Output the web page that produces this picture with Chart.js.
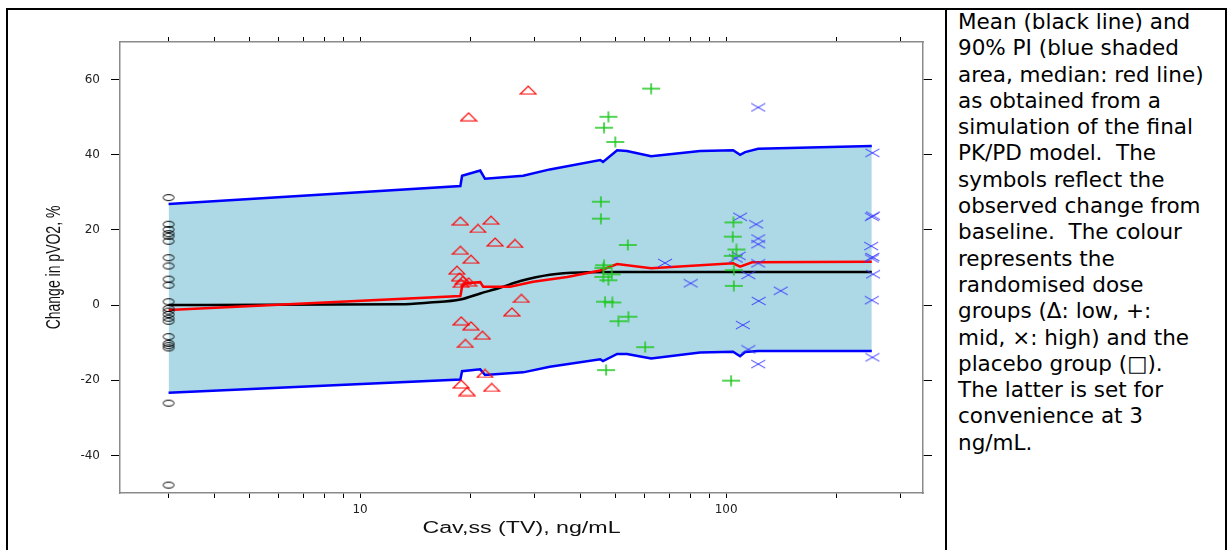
<!DOCTYPE html>
<html>
<head>
<meta charset="utf-8">
<script src="https://cdn.jsdelivr.net/npm/chart.js@4.4.1/dist/chart.umd.min.js"></script>
<style>
  html, body { margin: 0; padding: 0; background: #fff; width: 1227px; height: 550px; overflow: hidden; }
  #frame { position: absolute; left: 6px; top: 8px; width: 1221px; height: 560px; box-sizing: border-box; border: 2px solid #000; }
  #sep { position: absolute; left: 945px; top: 8px; width: 2px; height: 560px; background: #000; }
  #c { position: absolute; left: 0; top: 0; }
  #note { position: absolute; left: 958px; top: 9px; font-family: "DejaVu Sans", Verdana, sans-serif; font-size: 21.5px; line-height: 26.3px; color: #000; white-space: nowrap; }
</style>
</head>
<body>
<div id="frame"></div>
<div id="sep"></div>
<canvas id="c" width="945" height="550"></canvas>
<div id="note">Mean (black line) and<br>90% PI (blue shaded<br>area, median: red line)<br>as obtained from a<br>simulation of the final<br>PK/PD model.&nbsp; The<br>symbols reflect the<br>observed change from<br>baseline.&nbsp; The colour<br>represents the<br>randomised dose<br>groups (Δ: low, +:<br>mid, ×: high) and the<br>placebo group (□).<br>The latter is set for<br>convenience at 3<br>ng/mL.</div>
<script>
// ---- data ----
const BAND_X = [3, 18.8, 19.0, 21.3, 21.95, 27.9, 33.0, 45.3, 46.1, 50.4, 53.6, 62.4, 84.9, 104.5, 109.2, 112.7, 122.3, 250];
const UPPER_90 = [26.9, 31.7, 34.4, 35.8, 33.6, 34.4, 36.1, 38.6, 38.1, 41.2, 41.0, 39.6, 41.0, 41.2, 40.0, 40.7, 41.6, 42.3];
const LOWER_90 = [-23.3, -19.8, -17.6, -17.1, -18.6, -17.9, -16.4, -14.4, -14.9, -13.0, -13.0, -14.2, -12.6, -12.4, -13.6, -12.5, -12.2, -12.2];

const MEAN_X = [3, 12.9, 15.5, 18.8, 21.3, 24.1, 27.4, 33.0, 39.9, 51.3, 250];
const MEAN_Y = [0, 0.2, 0.7, 1.5, 3.1, 4.6, 6.4, 8.1, 8.7, 8.8, 8.8];

const MEDIAN_X = [3, 18.8, 19.0, 19.4, 21.3, 21.7, 25.7, 29.7, 36.8, 45.3, 50.4, 62.4, 104.5, 109.2, 117.8, 250];
const MEDIAN_Y = [-1.3, 2.4, 4.9, 5.8, 6.1, 4.9, 4.9, 6.2, 7.5, 9.2, 10.9, 9.8, 11.1, 10.2, 11.4, 11.5];

const PLACEBO_CONC = 3;
const PLACEBO_Y = [28.6, 21.5, 20.1, 19.0, 18.3, 17.0, 12.6, 10.4, 6.9, 5.3, 0.9, -0.9, -1.6, -2.5, -3.5, -4.3, -8.4, -10.2, -10.8, -11.4, -26.1, -47.9];

const LOW_X = [28.8, 19.8, 18.8, 22.8, 21.0, 23.4, 26.5, 18.8, 20.1, 18.4, 18.7, 19.1, 19.8, 18.9, 27.6, 26.0, 18.9, 20.1, 21.6, 19.4, 21.95, 18.9, 19.6, 22.9];
const LOW_Y = [57.2, 50.1, 22.4, 22.6, 20.4, 16.8, 16.4, 14.6, 12.2, 9.3, 7.5, 6.6, 6.2, 5.8, 1.8, -1.8, -4.2, -5.5, -8.0, -10.2, -18.2, -21.0, -23.0, -21.9];

const MID_X = [62.4, 47.7, 46.4, 49.8, 45.5, 45.5, 53.9, 46.4, 46.2, 48.7, 46.2, 47.7, 46.7, 48.9, 50.8, 54.1, 60.1, 47.0, 104.7, 104.3, 106.7, 104.3, 105.0, 105.0, 103.2];
const MID_Y = [57.6, 50.1, 47.2, 43.4, 27.5, 23.0, 16.0, 10.6, 9.9, 8.2, 7.5, 6.6, 0.9, 0.7, -4.3, -3.1, -11.2, -17.3, 22.0, 18.2, 14.8, 13.1, 9.3, 5.1, -20.1];

const HIGH_X = [122.4, 109.2, 120.8, 122.4, 122.4, 108.2, 106.3, 122.4, 115.0, 68.1, 80.0, 141.0, 122.7, 111.1, 115.0, 122.4, 251, 250, 252, 249, 251, 250, 252, 250, 251];
const HIGH_Y = [52.6, 23.5, 21.5, 17.7, 16.2, 13.1, 12.4, 11.1, 8.0, 11.2, 5.8, 3.8, 1.1, -5.3, -11.8, -15.7, 40.5, 23.5, 23.8, 15.7, 12.8, 12.4, 8.2, 1.3, -13.9];

const X_TICKS = [3, 4, 5, 6, 7, 8, 9, 10, 20, 30, 40, 50, 60, 70, 80, 90, 100, 200, 300];
const X_TICK_LABELS = [10, 100];
const Y_TICKS = [-40, -20, 0, 20, 40, 60];
const X_MIN = 2.21, X_MAX = 345, Y_MIN = -50, Y_MAX = 70;

// ---- helpers ----
const zip = (xs, ys) => ys.map((y, i) => ({ x: xs[i], y }));
function marker(w, h, draw) {
  const c = document.createElement('canvas');
  c.width = w; c.height = h;
  const g = c.getContext('2d');
  draw(g, w, h);
  return c;
}
const circleMk = marker(14, 9, (g) => {
  g.strokeStyle = '#000'; g.lineWidth = 1;
  g.beginPath(); g.ellipse(7, 4.5, 5.5, 3, 0, 0, Math.PI * 2); g.stroke();
});
const triMk = marker(18, 10, (g) => {
  g.strokeStyle = '#ff0000'; g.lineWidth = 1.2;
  g.beginPath(); g.moveTo(1, 9); g.lineTo(9, 1); g.lineTo(17, 9); g.closePath(); g.stroke();
});
const plusMk = marker(20, 12, (g) => {
  g.strokeStyle = '#1ec81e'; g.lineWidth = 1.5;
  g.beginPath(); g.moveTo(1, 6); g.lineTo(19, 6); g.moveTo(10, 0.5); g.lineTo(10, 11.5); g.stroke();
});
const crossMk = marker(16, 10, (g) => {
  g.strokeStyle = '#3a3aff'; g.lineWidth = 1;
  g.beginPath(); g.moveTo(1, 1); g.lineTo(15, 9); g.moveTo(1, 9); g.lineTo(15, 1); g.stroke();
});

const setTicks = (vals) => (s) => { s.ticks = vals.map(v => ({ value: v })); };

// stretch axis titles horizontally (the reference image is horizontally stretched)
function stretchTitle(scale, sx, centerFn) {
  if (!scale || scale._stretched) return;
  const orig = scale.drawTitle;
  scale.drawTitle = function () {
    const c = this.ctx; const cx = centerFn(this);
    c.save();
    c.translate(cx, 0); c.scale(sx, 1); c.translate(-cx, 0);
    orig.apply(this, arguments);
    c.restore();
  };
  scale._stretched = true;
}
const titleStretch = {
  id: 'titleStretch',
  beforeDraw(chart) {
    stretchTitle(chart.scales.x, 1.45, (s) => (s.left + s.right) / 2);
    stretchTitle(chart.scales.y, 1.5, (s) => s.left + 8.4 + 46);
  }
};

const tickFont = { family: 'DejaVu Sans', size: 12 };

new Chart(document.getElementById('c'), {
  type: 'scatter',
  data: {
    datasets: [
      { label: 'upper', data: zip(BAND_X, UPPER_90), showLine: true, borderColor: '#0000ff', borderWidth: 2.5,
        backgroundColor: '#add8e6', fill: '+1', pointRadius: 0, order: 10 },
      { label: 'lower', data: zip(BAND_X, LOWER_90), showLine: true, borderColor: '#0000ff', borderWidth: 2.5,
        fill: false, pointRadius: 0, order: 9 },
      { label: 'mean', data: zip(MEAN_X, MEAN_Y), showLine: true, borderColor: '#000', borderWidth: 2.5,
        cubicInterpolationMode: 'monotone', pointRadius: 0, order: 6 },
      { label: 'median', data: zip(MEDIAN_X, MEDIAN_Y), showLine: true, borderColor: '#ff0000', borderWidth: 2.5,
        pointRadius: 0, order: 5 },
      { label: 'placebo', data: PLACEBO_Y.map(y => ({ x: PLACEBO_CONC, y })), pointStyle: circleMk, order: 1 },
      { label: 'low', data: zip(LOW_X, LOW_Y), pointStyle: triMk, order: 1 },
      { label: 'mid', data: zip(MID_X, MID_Y), pointStyle: plusMk, order: 1 },
      { label: 'high', data: zip(HIGH_X, HIGH_Y), pointStyle: crossMk, order: 1 }
    ]
  },
  options: {
    responsive: false,
    animation: false,
    devicePixelRatio: 1,
    layout: { padding: 0 },
    plugins: { legend: { display: false }, tooltip: { enabled: false } },
    scales: {
      x: {
        type: 'logarithmic', position: 'bottom', min: X_MIN, max: X_MAX,
        afterBuildTicks: setTicks(X_TICKS),
        afterFit: (s) => { s.height = 57; },
        border: { color: '#8a8a8a', width: 1.5 },
        grid: { drawOnChartArea: false, drawTicks: true, tickLength: 5, tickColor: '#000' },
        ticks: { autoSkip: false, maxRotation: 0, padding: 5, color: '#222', font: tickFont,
          callback: (v) => X_TICK_LABELS.includes(v) ? String(v) : '' },
        title: { display: true, text: 'Cav,ss (TV), ng/mL', color: '#111',
          font: { family: 'Liberation Sans', size: 16 }, padding: { top: 0, bottom: 12 } }
      },
      x2: {
        type: 'logarithmic', position: 'top', min: X_MIN, max: X_MAX,
        afterBuildTicks: setTicks(X_TICKS),
        afterFit: (s) => { s.height = 42; },
        border: { color: '#8a8a8a', width: 1.5 },
        grid: { drawOnChartArea: false, drawTicks: true, tickLength: 5, tickColor: '#000' },
        ticks: { display: false }
      },
      y: {
        type: 'linear', position: 'left', min: Y_MIN, max: Y_MAX,
        afterBuildTicks: setTicks(Y_TICKS),
        afterFit: (s) => { s.width = 120; },
        border: { color: '#8a8a8a', width: 1.5 },
        grid: { drawOnChartArea: false, drawTicks: true, tickLength: 9, tickColor: '#000' },
        ticks: { padding: 11, color: '#222', font: tickFont },
        title: { display: true, text: 'Change in pVO2, %', color: '#111',
          font: { family: 'Liberation Sans', size: 14 }, padding: { top: 46, bottom: 0 } }
      },
      y2: {
        type: 'linear', position: 'right', min: Y_MIN, max: Y_MAX,
        afterBuildTicks: setTicks(Y_TICKS),
        afterFit: (s) => { s.width = 22; },
        border: { color: '#8a8a8a', width: 1.5 },
        grid: { drawOnChartArea: false, drawTicks: true, tickLength: 9, tickColor: '#000' },
        ticks: { display: false }
      }
    }
  },
  plugins: [titleStretch]
});
</script>
</body>
</html>
